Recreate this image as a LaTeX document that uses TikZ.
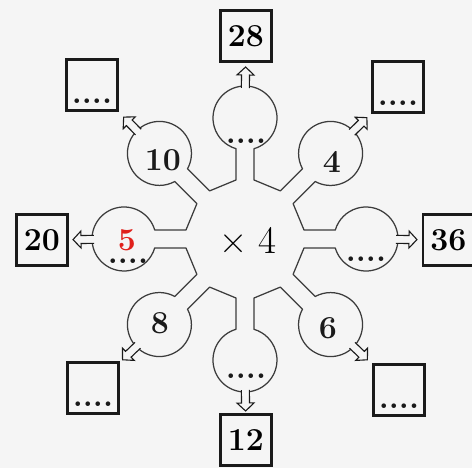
\documentclass[tikz,border=0pt]{standalone}
\usepackage{fontspec}
\usepackage{xcolor}
\usepackage{tikz}
\usetikzlibrary{positioning,calc}
\definecolor{bgcolor}{HTML}{F5F5F5}
\definecolor{inkcolor}{HTML}{1A1A1A}
\definecolor{givencolor}{HTML}{E0201B}

\begin{document}
\begin{tikzpicture}[
    x=1pt, y=1pt,
    ball/.style={circle, minimum size=64pt, inner sep=0pt},
    resbox/.style={draw=inkcolor, line width=2.6pt, minimum size=51pt, inner sep=0pt, font=\fontsize{32}{34}\selectfont\bfseries},
    num/.style={inner sep=0pt, text=inkcolor, font=\fontsize{32}{34}\selectfont\bfseries},
    dots/.style={num, anchor=base},
    outline/.style={draw=inkcolor!85, line width=1.25pt, line join=round},
    hollow/.style={draw=inkcolor, fill=bgcolor, line width=1.1pt, line join=miter,
      to path={
        ($(\tikztostart)!30pt!(\tikztotarget)!4pt!90:(\tikztotarget)$)
        -- ($(\tikztostart)!43pt!(\tikztotarget)!4pt!90:(\tikztotarget)$)
        -- ($(\tikztostart)!43pt!(\tikztotarget)!8.5pt!90:(\tikztotarget)$)
        -- ($(\tikztostart)!51pt!(\tikztotarget)$)
        -- ($(\tikztostart)!43pt!(\tikztotarget)!8.5pt!-90:(\tikztotarget)$)
        -- ($(\tikztostart)!43pt!(\tikztotarget)!4pt!-90:(\tikztotarget)$)
        -- ($(\tikztostart)!30pt!(\tikztotarget)!4pt!-90:(\tikztotarget)$)
      }},
  ]
  \fill[bgcolor] (-245,-229) rectangle (227,239);
  \useasboundingbox (-245,-229) rectangle (227,239);

  % flower outline: stems, chords and balloons
  \draw[outline] (81.33:59.7)
    \foreach \a in {90,135,...,405} {
      -- ({\a-8.67}:59.7) -- ({\a-5.69}:90.75)
      arc[start angle=\a-163.7, end angle=\a+163.7, radius=32]
      -- ({\a+8.67}:59.7)
    } -- cycle;

  \node[font=\fontsize{39}{40}\selectfont, text=black, inner sep=0pt] (times) at (3,-1) {× 4};

  % balloons
  \node[ball] (ball1) at (90:121) {};
  \node[ball] (ball2) at (45:121) {};
  \node[ball] (ball3) at (0:121) {};
  \node[ball] (ball4) at (-45:121) {};
  \node[ball] (ball5) at (-90:121) {};
  \node[ball] (ball6) at (-135:121) {};
  \node[ball] (ball7) at (180:121) {};
  \node[ball] (ball8) at (135:121) {};

  % answer boxes
  \node[resbox] (box1) at (1,203) {28};
  \node[resbox] (box2) at (153,152) {};
  \node[resbox] (box3) at (203.5,-1) {36};
  \node[resbox] (box4) at (154,-151) {};
  \node[resbox] (box5) at (1,-201) {12};
  \node[resbox] (box6) at (-152,-149) {};
  \node[resbox] (box7) at (-203,-1) {20};
  \node[resbox] (box8) at (-153,154) {};

  % texts in the balloons
  \node[dots] (dot1) at (1,95) {....};
  \node[num] (num2) at (87,77) {4};
  \node[dots] (dot3) at (121,-23) {....};
  \node[num] (num4) at (83,-89) {6};
  \node[dots] (dot5) at (1,-140) {....};
  \node[num] (num6) at (-85,-84) {8};
  \node[num, text=givencolor] (num7) at (-118,-1) {5};
  \node[dots] (dot7) at (-117,-25) {....};
  \node[num] (num8) at (-82,79) {10};

  % dots in the empty boxes
  \node[dots] (dot2b) at ($(box2)+(0,-19)$) {....};
  \node[dots] (dot4b) at ($(box4)+(0,-19)$) {....};
  \node[dots] (dot6b) at ($(box6)+(0,-19)$) {....};
  \node[dots] (dot8b) at ($(box8)+(0,-19)$) {....};

  % hollow arrows
  \draw[hollow] (ball1) to (box1);
  \draw[hollow] (ball2) to (box2);
  \draw[hollow] (ball3) to (box3);
  \draw[hollow] (ball4) to (box4);
  \draw[hollow] (ball5) to (box5);
  \draw[hollow] (ball6) to (box6);
  \draw[hollow] (ball7) to (box7);
  \draw[hollow] (ball8) to (box8);
\end{tikzpicture}
\end{document}
